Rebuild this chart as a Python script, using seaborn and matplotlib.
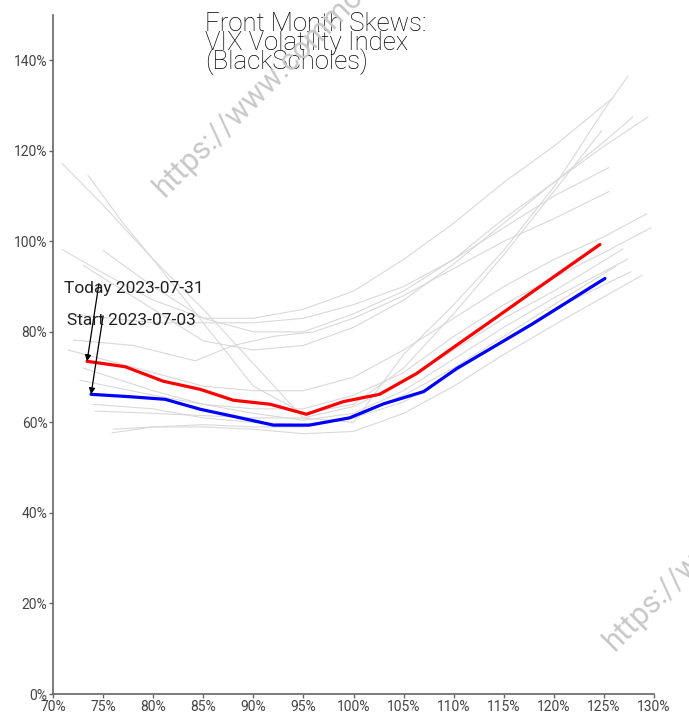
import matplotlib
matplotlib.use("Agg")
import matplotlib.pyplot as plt
import matplotlib.ticker as mtick
import seaborn as sns
import pandas as pd

# strikes (% of spot) and implied vols (%)
gray_x = [
    [70.9, 75, 80, 85, 90, 95, 100, 105, 110, 115, 120, 125, 127.4],
    [73.5, 77, 80, 85, 90, 95, 100, 105, 110, 115, 120, 124.8],
    [70.9, 75, 80, 85, 90, 95, 100, 105, 110, 115, 120, 125.9],
    [75.0, 80, 85, 90, 95, 100, 105, 110, 115, 120, 125, 129.4],
    [73.0, 80, 85, 90, 95, 100, 105, 110, 115, 120, 125, 127.9],
    [71.5, 80, 85, 90, 95, 100, 105, 110, 115, 120, 125.5],
    [72.0, 78, 84.2, 88, 92, 96, 100, 105, 110, 115, 120, 125.5],
    [71.5, 80, 85, 90, 95, 100, 105, 110, 115, 120, 125, 129.3],
    [72.7, 80, 85, 90, 95, 100, 105, 110, 115, 120, 125, 129.7],
    [74.2, 80, 85, 90, 95, 100, 105, 110, 115, 120, 126.9],
    [73.0, 80, 85, 90, 95, 100, 105, 110, 115, 120, 127.4],
    [75.9, 80, 85, 90, 95, 100, 105, 110, 115, 120, 126.2],
    [74.0, 80, 85, 90, 95, 100, 105, 110, 115, 120, 127.7],
    [76.0, 80, 85, 90, 95, 100, 105, 110, 115, 120, 128.8],
]
gray_y = [
    [117.2, 108, 96, 85, 73, 61, 60, 75, 86, 98, 112, 129, 136.5],
    [114.6, 104, 96, 82, 68, 62, 64, 72, 84, 97, 111, 124.5],
    [98.2, 93, 87, 83, 83, 85, 89, 96, 104, 113, 121, 131.7],
    [98.0, 90, 83, 80, 80, 84, 89, 96, 105, 113, 121, 127.5],
    [94.7, 85, 78, 76, 77, 81, 87, 95, 104, 113, 122, 127.5],
    [84.0, 82, 82, 82, 83, 86, 90, 96, 103, 110, 116.3],
    [78.2, 77, 73.6, 77, 79, 80, 83, 88, 94, 100, 105, 111.0],
    [76.0, 71, 68, 67, 67, 70, 76, 83, 90, 96, 101, 106.1],
    [69.3, 66, 64, 63, 63, 66, 71, 79, 86, 92, 97.5, 103.0],
    [62.5, 62, 61.5, 61, 61, 63.5, 69, 76, 83, 89, 98.3],
    [72.0, 67, 64, 62, 60.5, 62, 67, 74, 81, 87.5, 96.1],
    [57.7, 59, 59.5, 59, 59, 61, 66, 72, 79, 86, 94.5],
    [64.0, 63, 61, 60, 59.5, 61, 64.5, 71, 78, 85, 93.3],
    [58.5, 59, 59, 58.5, 57.5, 58, 62, 68, 75, 81.5, 92.5],
]

today_x = [73.4, 77.2, 81.0, 84.7, 88.0, 91.7, 95.3, 99.0, 102.6, 106.3, 110.0, 114.0, 117.9, 121.5, 124.6]
today_y = [73.5, 72.3, 69.1, 67.3, 64.9, 64.0, 61.8, 64.6, 66.2, 70.8, 76.6, 82.8, 88.9, 94.5, 99.3]

start_x = [73.8, 77.5, 81.2, 84.7, 88.3, 92.0, 95.6, 99.6, 103.0, 107.0, 110.3, 114.0, 117.9, 121.5, 125.1]
start_y = [66.2, 65.7, 65.1, 62.9, 61.2, 59.4, 59.4, 61.0, 64.1, 66.8, 71.9, 76.7, 81.8, 86.8, 91.8]

today_label = "Today 2023-07-31"
start_label = "Start 2023-07-03"
title = "Front Month Skews:\nVIX Volatility Index\n(BlackScholes)"
watermark = "https://www.commodity.com"


def main():
    sns.set_style("ticks")
    plt.rcParams["font.family"] = ["Roboto", "DejaVu Sans"]

    rows = []
    for i, (xs, ys) in enumerate(zip(gray_x, gray_y)):
        for x, y in zip(xs, ys):
            rows.append({"day": i, "strike": x / 100, "vol": y / 100})
    hist = pd.DataFrame(rows)
    today = pd.DataFrame({"strike": [v / 100 for v in today_x], "vol": [v / 100 for v in today_y]})
    start = pd.DataFrame({"strike": [v / 100 for v in start_x], "vol": [v / 100 for v in start_y]})

    fig = plt.figure(figsize=(6.89, 7.19), dpi=100)
    ax = fig.add_axes([53 / 689, 25 / 719, 601 / 689, 679 / 719])

    sns.lineplot(data=hist, x="strike", y="vol", units="day", estimator=None,
                 color="#d9d9d9", linewidth=0.8, sort=False, ax=ax)
    sns.lineplot(data=today, x="strike", y="vol", color="#ff0000", linewidth=2.3,
                 sort=False, ax=ax)
    sns.lineplot(data=start, x="strike", y="vol", color="#0000ff", linewidth=2.3,
                 sort=False, ax=ax)

    ax.set_xlim(0.70, 1.30)
    ax.set_ylim(0, 1.5)
    ax.set_xticks([0.70 + 0.05 * i for i in range(13)])
    ax.set_yticks([0.2 * i for i in range(8)])
    ax.xaxis.set_major_formatter(mtick.PercentFormatter(1.0, decimals=0))
    ax.yaxis.set_major_formatter(mtick.PercentFormatter(1.0, decimals=0))
    ax.set_xlabel("")
    ax.set_ylabel("")
    sns.despine(ax=ax)
    for side in ["left", "bottom"]:
        ax.spines[side].set_color("#666666")
        ax.spines[side].set_linewidth(1.2)
    ax.tick_params(axis="both", colors="#666666", labelcolor="#444444",
                   labelsize=10, length=3, width=1, pad=1)

    arrow = dict(arrowstyle="-|>", color="black", lw=0.9, mutation_scale=9,
                 shrinkA=0, shrinkB=0, patchA=None)
    ax.annotate(today_label, xy=(today.strike[0], today.vol[0]), xytext=(0.711, 0.8965),
                ha="left", va="center", fontsize=12.5, color="#222222",
                arrowprops=dict(arrow, relpos=(0.25, 0.8)))
    ax.annotate(start_label, xy=(start.strike[0], start.vol[0]), xytext=(0.714, 0.826),
                ha="left", va="center", fontsize=12.5, color="#222222",
                arrowprops=dict(arrow, relpos=(0.28, 0.78)))

    fig.text(205 / 689, 1 - 12 / 719, title, ha="left", va="top", fontsize=18.5,
             fontweight="light", linespacing=0.72, color="black")

    for x, y in [(165 / 689, 1 - 198 / 719), (615 / 689, 1 - 652 / 719)]:
        fig.text(x, y, watermark, rotation=45, rotation_mode="anchor", ha="left",
                 va="baseline", fontsize=22, color="#c8c8c8")

    fig.savefig("out.png", dpi=100)
    plt.close(fig)


if __name__ == "__main__":
    main()
